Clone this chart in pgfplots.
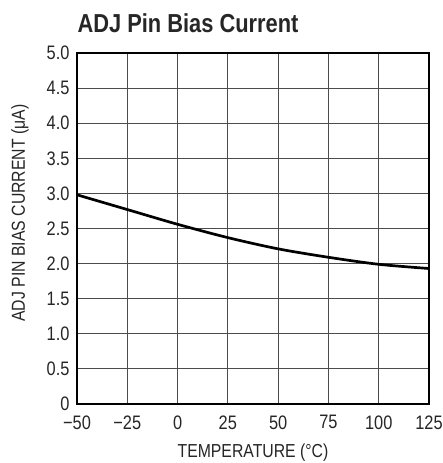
\documentclass[border=0pt]{standalone}
\usepackage{pgfplots}
\pgfplotsset{compat=1.18}
\usepackage{fontspec}
\setmainfont{Liberation Sans}[FakeStretch=0.84]
\begin{document}
\begin{tikzpicture}
\useasboundingbox (-77pt,-59pt) rectangle (365pt,404pt);
\begin{axis}[
  at={(0pt,0pt)}, anchor=south west,
  scale only axis, width=352pt, height=351pt,
  xmin=-50, xmax=125, ymin=0, ymax=5,
  xtick={-50,-25,0,25,50,75,100,125},
  xticklabels={−50,−25,0,25,50,75,100,125},
  ytick={0,0.5,1,1.5,2,2.5,3,3.5,4,4.5,5},
  yticklabels={0,0.5,1.0,1.5,2.0,2.5,3.0,3.5,4.0,4.5,5.0},
  major tick length=0pt,
  grid=major,
  grid style={black!70, line width=0.9pt},
  axis line style={black, line width=1.5pt},
  tick label style={font=\fontsize{19.5}{21}\selectfont, black!85},
  xticklabel style={anchor=north, yshift=-8pt},
  yticklabel style={anchor=east, xshift=-4pt},
  label style={font=\fontsize{18.8}{21}\selectfont, black!85},
  xlabel={TEMPERATURE (°C)},
  ylabel={ADJ PIN BIAS CURRENT (μA)},
  xlabel style={at={(0.5,0)}, anchor=north, yshift=-36pt},
  ylabel style={at={(axis description cs:-0.162,0.544)}, anchor=center},
  title={\textbf{ADJ Pin Bias Current}},
  title style={font=\fontsize{26}{28}\selectfont, black!85, at={(0,1)}, anchor=south west, xshift=-3pt, yshift=11pt},
]
\addplot[black, line width=2.7pt, smooth] coordinates {
(-50,2.98) (-25,2.77) (0,2.56) (25,2.37) (50,2.21) (75,2.09) (100,1.99) (125,1.93)
};
\end{axis}
\end{tikzpicture}
\end{document}
